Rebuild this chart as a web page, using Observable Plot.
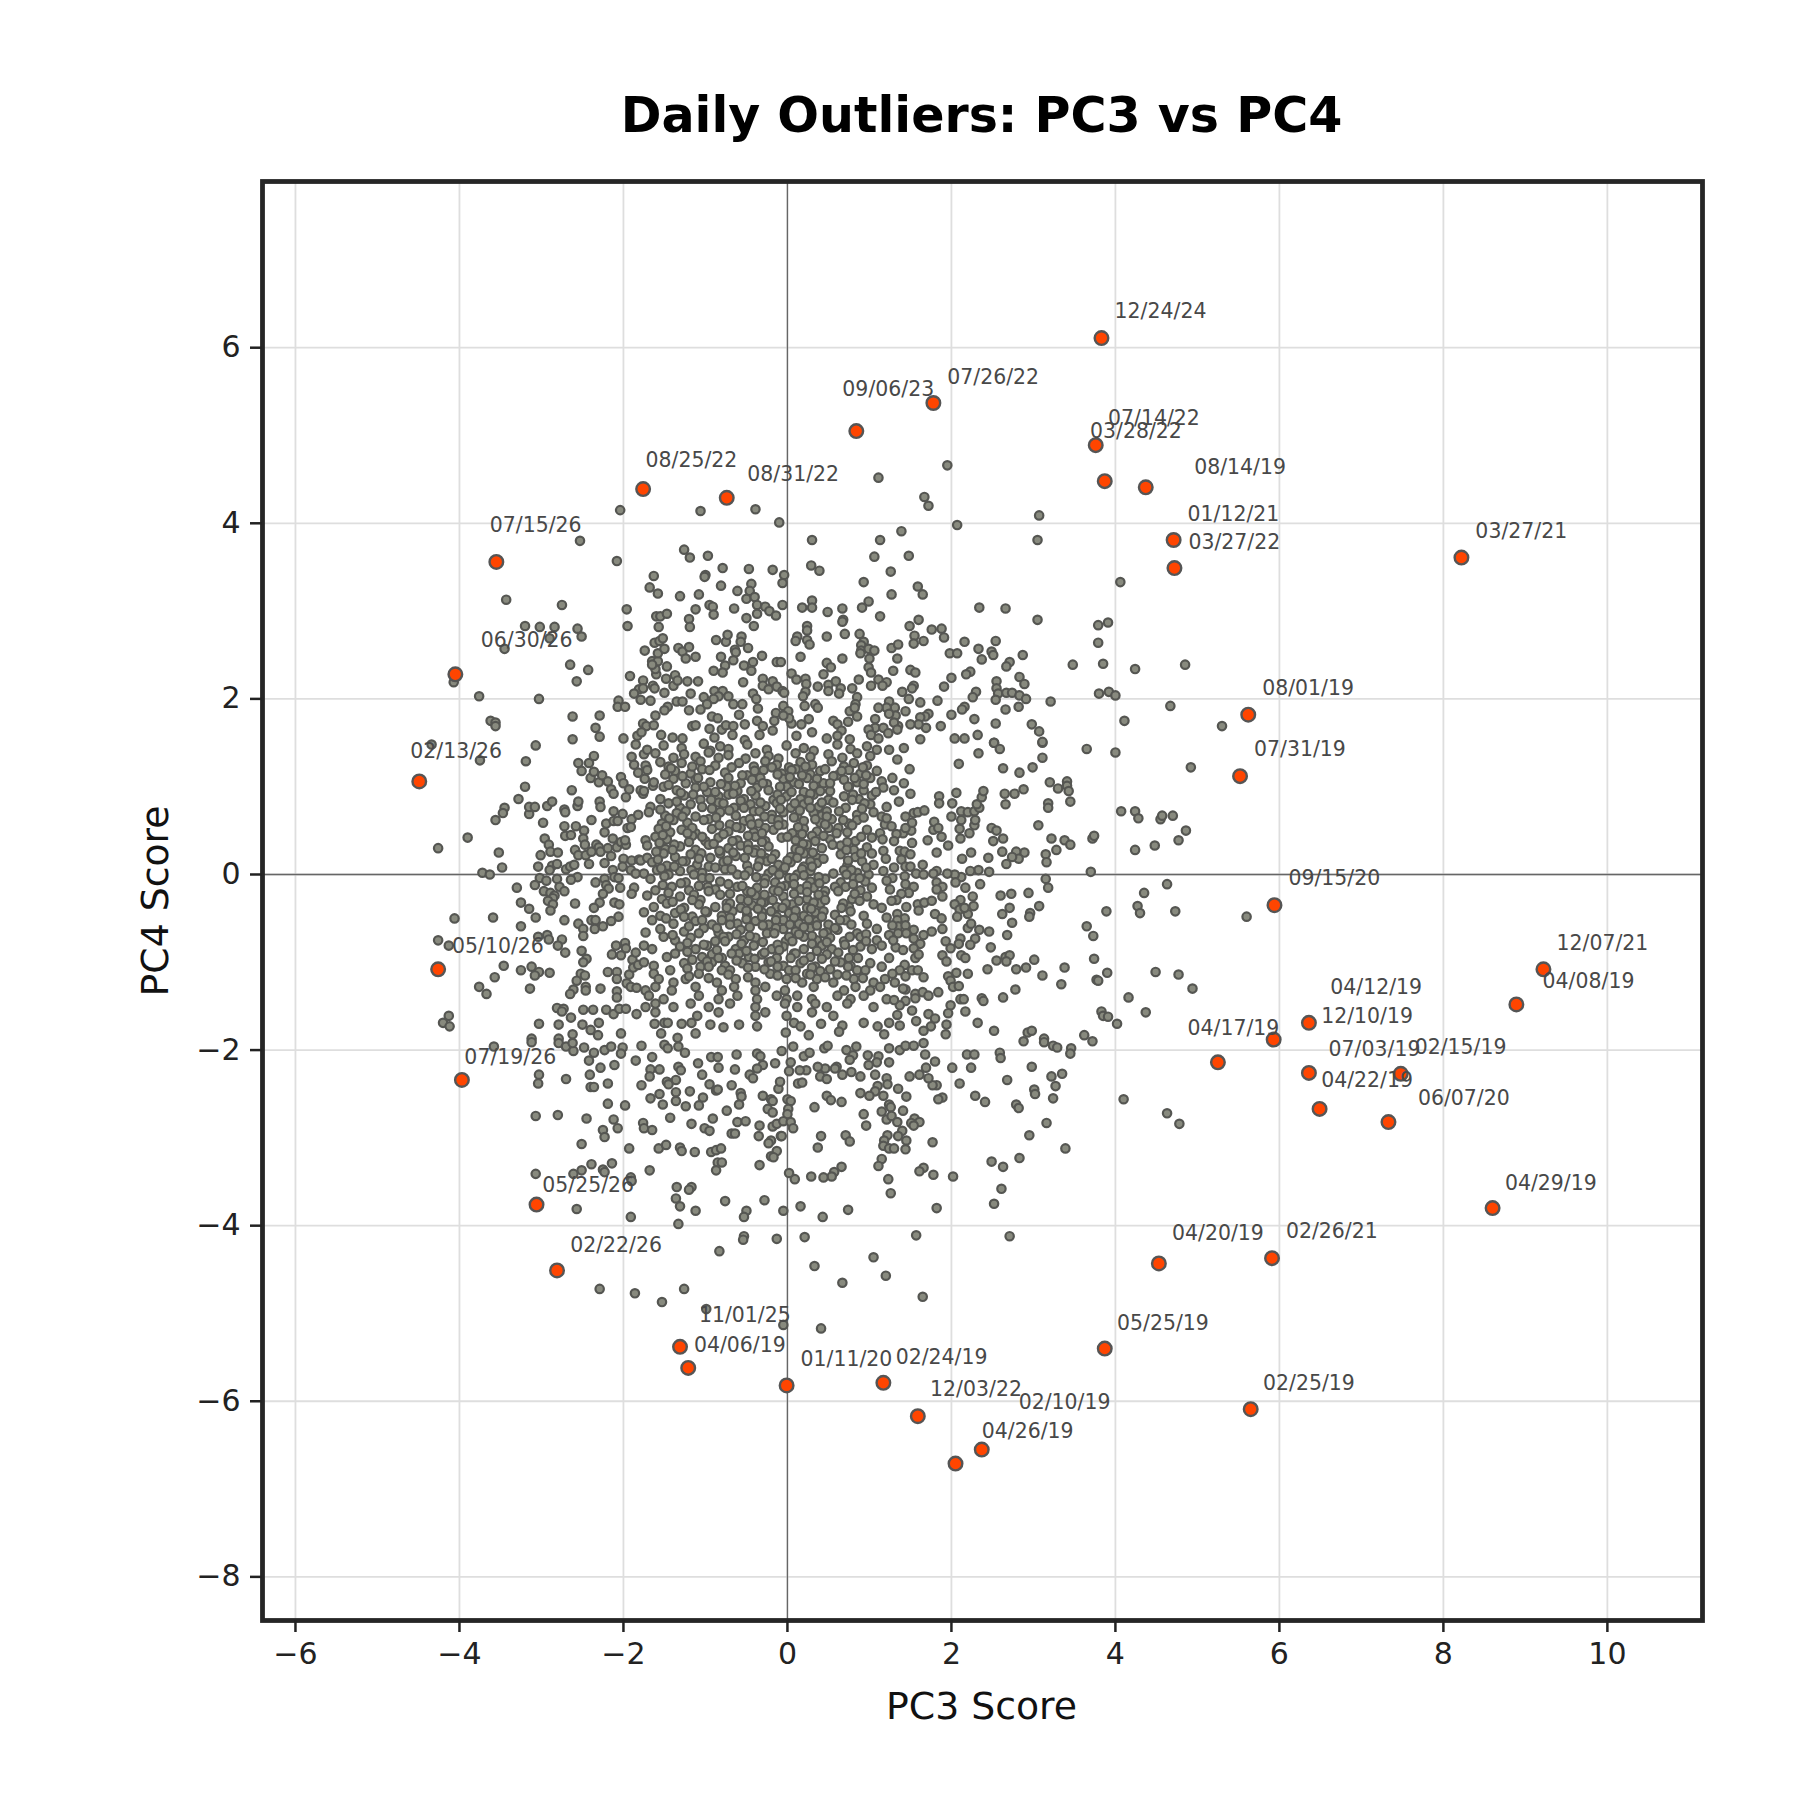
<!DOCTYPE html>
<html><head><meta charset="utf-8">
<script src="https://cdn.jsdelivr.net/npm/d3@7"></script>
<script src="https://cdn.jsdelivr.net/npm/@observablehq/plot@0.6"></script>
<style>html,body{margin:0;padding:0;background:#fff}svg{display:block}</style>
</head><body><div id="chart"></div>
<script>
const xTicks=[-6,-4,-2,0,2,4,6,8,10];
const yTicks=[-8,-6,-4,-2,0,2,4,6];
const outlierDates=["12/24/24","07/26/22","09/06/23","03/28/22","07/14/22","08/14/19","01/12/21","03/27/22","03/27/21","08/25/22","08/31/22","07/15/26","06/30/26","02/13/26","08/01/19","07/31/19","09/15/20","12/07/21","04/08/19","04/12/19","12/10/19","04/17/19","07/03/19","02/15/19","04/22/19","06/07/20","04/29/19","02/26/21","04/20/19","05/25/19","02/25/19","02/24/19","01/11/20","12/03/22","02/10/19","04/26/19","11/01/25","04/06/19","05/10/26","07/19/26","05/25/26","02/22/26"];
const outlierPC3=[3.83,1.78,.84,3.76,3.87,4.37,4.71,4.72,8.22,-1.76,-.74,-3.55,-4.05,-4.49,5.62,5.52,5.94,9.22,8.89,6.36,5.93,5.25,6.36,7.48,6.49,7.33,8.60,5.91,4.53,3.87,5.65,1.17,-.01,1.59,2.05,2.37,-1.31,-1.21,-4.26,-3.97,-3.06,-2.81];
const outlierPC4=[6.11,5.37,5.05,4.89,4.48,4.41,3.81,3.49,3.61,4.39,4.29,3.56,2.28,1.06,1.82,1.12,-.35,-1.08,-1.48,-1.69,-1.88,-2.14,-2.26,-2.27,-2.67,-2.82,-3.80,-4.37,-4.43,-5.40,-6.09,-5.79,-5.82,-6.17,-6.71,-6.55,-5.38,-5.62,-1.08,-2.34,-3.76,-4.51];
const labelPC3=[3.99,1.95,.67,3.69,3.91,4.96,4.88,4.89,8.39,-1.73,-.49,-3.63,-3.74,-4.60,5.79,5.69,6.11,9.38,9.21,6.62,6.51,4.88,6.60,7.65,6.51,7.69,8.75,6.08,4.69,4.02,5.80,1.32,.16,1.74,2.82,2.37,-1.08,-1.14,-4.09,-3.94,-2.99,-2.65];
const labelPC4=[6.41,5.66,5.52,5.05,5.19,4.64,4.10,3.78,3.91,4.72,4.56,3.97,2.67,1.40,2.12,1.42,-.05,-.78,-1.22,-1.29,-1.62,-1.75,-1.99,-1.97,-2.35,-2.55,-3.52,-4.07,-4.09,-5.11,-5.80,-5.50,-5.52,-5.87,-6.01,-6.34,-5.02,-5.36,-.82,-2.08,-3.54,-4.22];

const upperLeft=[[-2.04,4.15],[-1.06,4.14],[-.39,4.16],[-.10,4.01],[-2.53,3.80],[-2.08,3.57],[-1.26,3.70],[-1.19,3.61],[-.97,3.63],[-.79,3.49],[-.47,3.48],[-.18,3.47],[-1,3.41],[-1.01,3.39],[-1.63,3.40],[-1.68,3.27],[-1.58,3.20],[-1.31,3.17],[-1.08,3.19],[-.81,3.29],[-.44,3.31],[-.46,3.23],[-.61,3.23],[-.50,3.14],[-.40,3.16],[-.37,3.07],[-.27,3.05],[-.22,3.00],[-.14,2.95],[-.37,2.97],[-.65,3.03],[-.95,3.07],[-.91,3.05],[-.90,2.96],[-1.12,3.02],[-3.43,3.13],[-2.75,3.07],[-1.96,3.02],[-1.95,2.83],[-3.20,2.83],[-3.02,2.82],[-2.84,2.82],[-2.56,2.80],[-2.51,2.71],[-2.90,2.69],[-3.45,2.57],[-2.65,2.39],[-2.43,2.33],[-2.57,2.20],[-4.07,2.19],[-3.76,2.03],[-3.03,2.0],[-3.62,1.75],[-3.56,1.73],[-3.56,1.69],[-2.62,1.80],[-2.29,1.81],[-2.34,1.67],[-2.29,1.57],[-2.62,1.54],[-2.06,1.98],[-2.07,1.91],[-1.98,1.91],[-1.92,2.26],[-1.76,2.21],[-1.81,2.11],[-1.76,2.12],[-1.87,2.06],[-1.79,1.99],[-1.67,1.98],[-1.64,2.15],[-1.62,2.12],[-1.50,2.07],[-1.39,2.15],[-1.37,2.27],[-1.34,2.21],[-1.48,2.23],[-1.60,2.28],[-1.61,2.34],[-1.65,2.43],[-1.58,2.43],[-1.65,2.39],[-1.47,2.37],[-1.74,2.55],[-1.58,2.52],[-1.50,2.57],[-1.62,2.64],[-1.56,2.66],[-1.52,2.69],[-1.33,2.58],[-1.28,2.54],[-1.20,2.59],[-1.24,2.46],[-1.12,2.48],[-1.57,2.82],[-1.60,2.94],[-1.55,2.94],[-1.47,2.97],[-1.20,2.91],[-1.19,2.82],[-.87,2.67],[-.75,2.65],[-.73,2.73],[-.56,2.71],[-.57,2.65],[-.48,2.58],[-.64,2.56],[-.63,2.53],[-.31,2.49],[-.81,2.48],[-.66,2.44],[-.76,2.38],[-.42,2.42],[-.53,2.38],[-.44,2.32],[-.90,2.32],[-.79,2.30],[-.13,2.42],[-.50,2.92],[-.41,2.83],[-1.22,2.20],[-1.09,2.20],[-.54,2.19],[-.30,2.23],[-.18,2.20],[-.30,2.15],[-.23,2.11],[-.13,2.14],[-1.18,2.06],[-.89,2.09],[-.79,2.09],[-.42,2.06],[-1.02,2.02],[-.84,2.03],[-.72,2.03],[-.90,2.0],[-1.35,1.97],[-1.28,1.97],[-1.46,1.91],[-1.50,1.87],[-1.20,1.87],[-1.06,1.88],[-.98,1.94],[-.66,1.94],[-.55,1.94],[-.38,2.0],[-.36,1.89],[-1.61,1.81],[-1.76,1.72],[-1.72,1.69],[-1.63,1.70],[-1.83,1.58],[-1.78,1.62],[-2.0,1.55],[-1.54,1.59],[-1.40,1.56],[-1.28,1.55],[-1.16,1.69],[-1.12,1.70],[-.95,1.66],[-.92,1.80],[-.85,1.78],[-.59,1.82],[-.80,1.65],[-.75,1.70],[-.66,1.69],[-.52,1.71],[-.37,1.75],[-.30,1.69],[-.14,1.84],[-.16,1.75],[-.18,1.64],[-.34,1.59],[-.89,1.56],[-.67,1.59],[-.52,1.53]];

const upperRight=[[1.11,4.52],[1.95,4.66],[1.67,4.30],[1.72,4.20],[2.07,3.98],[3.07,4.09],[3.05,3.81],[.30,3.81],[1.13,3.81],[1.39,3.91],[1.06,3.62],[1.48,3.63],[.29,3.52],[.39,3.46],[1.26,3.45],[-.04,3.41],[-.06,3.32],[.93,3.33],[1.59,3.28],[1.27,3.19],[1.65,3.19],[.30,3.12],[-.06,3.07],[.18,3.04],[.30,3.04],[.49,2.99],[.67,3.03],[.99,3.11],[.91,3.04],[1.13,2.94],[.68,2.90],[.67,2.88],[1.60,2.90],[1.49,2.83],[1.76,2.79],[1.88,2.80],[1.91,2.70],[1.55,2.72],[1.54,2.63],[1.66,2.66],[2.34,3.04],[2.66,3.03],[3.05,2.90],[4.06,3.33],[3.79,2.84],[3.91,2.87],[3.79,2.64],[3.85,2.40],[3.48,2.39],[4.24,2.34],[3.80,2.06],[3.92,2.08],[4.0,2.04],[4.67,1.92],[4.11,1.75],[3.21,1.97],[.24,2.83],[.24,2.78],[.12,2.71],[.10,2.66],[.24,2.67],[.27,2.62],[.48,2.71],[.70,2.74],[.88,2.74],[.93,2.65],[.90,2.61],[.90,2.55],[.89,2.52],[.99,2.57],[1.06,2.55],[1.0,2.46],[1.27,2.58],[1.35,2.62],[1.34,2.46],[.16,2.48],[-.08,2.42],[.48,2.41],[.53,2.36],[.67,2.46],[.44,2.28],[.99,2.36],[1.02,2.30],[1.29,2.32],[1.50,2.33],[1.56,2.30],[.05,2.29],[.11,2.22],[.22,2.23],[.23,2.17],[.37,2.14],[.50,2.16],[.59,2.20],[.87,2.22],[1.11,2.22],[1.21,2.19],[1.16,2.15],[1.02,2.15],[.79,2.12],[.65,2.12],[.50,2.09],[.63,2.06],[.22,2.08],[.19,2.03],[-.06,2.09],[-.04,2.07],[.85,2.02],[1.40,2.08],[1.54,2.15],[1.52,2.12],[1.48,2.0],[1.62,1.96],[1.91,2.14],[2.0,2.24],[2.16,2.65],[2.33,2.57],[2.54,2.66],[1.98,2.52],[2.07,2.52],[2.49,2.54],[2.51,2.50],[2.37,2.45],[2.87,2.50],[2.71,2.42],[2.67,2.37],[2.23,2.31],[2.18,2.28],[2.83,2.25],[2.89,2.17],[2.55,2.20],[2.55,2.12],[2.57,2.06],[2.67,2.07],[2.74,2.07],[2.83,2.04],[2.91,2.0],[2.54,1.99],[2.30,2.08],[2.26,2.02],[1.83,1.98],[2.16,1.91],[2.13,1.88],[2.0,1.82],[2.82,1.91],[2.66,1.88],[2.28,1.77],[2.54,1.72],[2.98,1.71],[3.07,1.63],[3.11,1.50],[2.32,1.59],[1.87,1.69],[1.72,1.83],[1.68,1.80],[1.62,1.79],[1.69,1.67],[1.60,1.71],[1.50,1.71],[1.35,1.69],[1.44,1.86],[1.31,1.90],[1.32,1.81],[1.24,1.97],[1.21,1.90],[1.24,1.83],[1.11,1.90],[1.30,1.73],[1.07,1.77],[1.07,1.67],[1.17,1.67],[1.23,1.61],[1.34,1.65],[.99,1.65],[1.02,1.59],[.85,1.80],[.74,1.74],[.76,1.86],[.83,1.94],[.82,1.90],[.56,1.75],[.61,1.71],[.66,1.64],[.61,1.58],[.17,1.71],[.26,1.77],[.05,1.72],[-.05,1.92],[.01,1.86],[.02,1.78],[-.05,1.81],[.21,1.92],[.34,1.94],[.37,1.90],[.30,1.62],[.11,1.58],[.48,1.55],[.76,1.54],[1.11,1.55],[1.62,1.54],[2.04,1.55],[2.16,1.55],[2.52,1.50],[4.85,2.39],[5.30,1.69],[4.92,1.22],[4.86,.50]];

const midLeftSparse=[[-4.34,1.48],[-3.07,1.47],[-3.75,1.30],[-3.19,1.29],[-3.20,1.0],[-3.28,.86],[-3.45,.76],[-3.47,.70],[-3.56,.62],[-2.63,.96],[-2.55,1.27],[-2.42,1.27],[-2.36,1.35],[-2.51,1.18],[-2.40,1.10],[-2.36,1.17],[-2.30,1.05],[-2.26,1.13],[-2.19,1.06],[-2.15,.97],[-2.12,.92],[-2.03,1.11],[-2.0,1.04],[-1.93,.97],[-1.97,.88],[-1.85,1.48],[-1.90,1.34],[-1.87,1.25],[-1.82,1.16],[-1.75,1.37],[-1.72,1.22],[-1.64,1.01],[-1.74,1.09],[-1.79,.96],[-1.76,.92],[-3.90,.42],[-4.26,.30],[-3.52,.25],[-3.48,.08],[-3.72,.02],[-3.63,0],[-3.15,.69],[-3.15,.77],[-3.08,.77],[-2.98,.59],[-2.93,.78],[-2.87,.83],[-2.72,.74],[-2.71,.71],[-2.56,.78],[-2.55,.83],[-2.29,.83],[-2.28,.77],[-2.12,.72],[-2.01,.69],[-2.39,.62],[-2.72,.55],[-2.58,.55],[-2.48,.50],[-2.71,.44],[-2.64,.45],[-2.96,.41],[-2.91,.34],[-2.89,.26],[-2.80,.25],[-3.01,.22],[-2.49,.41],[-2.47,.34],[-2.59,.28],[-2.55,.22],[-2.46,.22],[-2.39,.26],[-2.33,.34],[-2.30,.31],[-2.28,.26],[-2.19,.30],[-2.15,.21],[-2.23,.13],[-2.13,.41],[-2.08,.31],[-2.03,.37],[-1.97,.34],[-1.98,.39],[-2.23,.48],[-2.21,.58],[-2.12,.61],[-2.07,.61],[-1.95,.53],[-1.90,.63],[-1.82,.68],[-1.91,.54],[-3.04,.09],[-2.87,.10],[-2.90,.05],[-2.81,.12],[-2.70,.06],[-2.65,.09],[-2.60,.11],[-2.42,.12],[-2.0,.18],[-1.90,.16],[-1.81,.17],[-1.79,.16],[-2.01,.09],[-2.13,.05],[-1.91,.05],[-1.85,.01],[-3.02,-.04],[-2.94,-.07],[-2.81,-.05],[-2.56,-.03],[-2.64,-.06],[-3.08,-.12],[-3.30,-.15],[-2.97,-.19],[-2.78,-.14],[-2.72,-.19],[-2.89,-.21],[-2.84,-.24],[-2.86,-.27],[-2.92,-.30],[-2.86,-.34],[-2.89,-.41],[-3.25,-.32],[-3.15,-.39],[-3.07,-.49],[-2.59,-.33],[-2.34,-.09],[-2.23,-.05],[-2.21,-.12],[-2.11,-.03],[-2.06,-.04],[-2.18,-.16],[-2.04,-.15],[-2.25,-.22],[-2.29,-.32],[-2.36,-.38],[-2.11,-.32],[-2.05,-.34],[-1.87,-.15],[-1.90,-.22],[-2.06,-.48],[-2.15,-.53],[-2.72,-.52],[-4.06,-.50],[-3.59,-.49],[-3.25,-.59],[-2.55,-.56],[-2.49,-.62],[-2.39,-.52],[-2.34,-.52],[-2.35,-.62],[-2.25,-.59],[-2.49,-.70],[-3.04,-.71],[-2.93,-.69],[-2.91,-.74],[-2.75,-.74],[-2.80,-.81],[-2.71,-.89],[-4.26,-.75],[-4.13,-.81],[-2.51,-.87],[-2.45,-.96],[-2.49,-1.0],[-2.14,-.91],[-2.09,-.81],[-1.98,-.78],[-1.97,-.84],[-2.03,-.92],[-3.46,-1.04],[-3.25,-1.09],[-3.12,-1.05],[-3.03,-1.11],[-3.08,-1.15],[-2.90,-1.12],[-3.57,-1.17],[-3.76,-1.28],[-3.67,-1.36],[-3.14,-1.30],[-2.52,-1.13],[-2.47,-1.15],[-2.57,-1.21],[-2.46,-1.28],[-2.61,-1.31],[-2.65,-1.36],[-2.46,-1.32],[-2.28,-1.30],[-2.19,-1.11],[-2.08,-1.11],[-2.08,-1.19],[-2.08,-1.33],[-2.08,-1.40],[-1.96,-1.24],[-1.93,-1.14],[-1.89,-.97],[-1.85,-.89],[-1.88,-1.06],[-1.82,-1.03],[-1.91,-1.28],[-1.84,-1.29],[-2.81,-1.52],[-2.73,-1.53],[-2.75,-1.56],[-2.64,-1.63],[-2.49,-1.54],[-2.37,-1.54],[-2.21,-1.54],[-2.12,-1.59],[-2.05,-1.53],[-1.97,-1.53],[-1.84,-1.59],[-4.13,-1.61],[-4.20,-1.69],[-4.12,-1.73],[-3.03,-1.70],[-2.79,-1.71],[-2.50,-1.71],[-2.40,-1.77],[-2.30,-1.69],[-2.31,-1.83],[-2.62,-1.82],[-3.12,-1.87],[-2.79,-1.87],[-2.03,-1.81],[-1.62,-1.70],[-1.50,-1.69],[-1.46,-1.69],[-1.29,-1.70],[-1.17,-1.69],[-1.54,-1.81],[-1.34,-1.86],[-1.12,-1.81],[-.94,-1.71],[-.78,-1.74],[-.59,-1.71],[-.37,-1.73]];

const coreDense=[
[-1.71,1.42],[-1.51,1.47],[-1.29,1.44],[-1.02,1.49],[-.94,1.41],[-.82,1.46],[-.72,1.43],[-.49,1.48],[-.25,1.42],[-.01,1.47],[.20,1.44],[.32,1.41],[.61,1.48],[.77,1.43],[.97,1.46],[1.09,1.42],
[-1.61,1.38],[-1.39,1.33],[-1.26,1.37],[-1.12,1.34],[-.96,1.39],[-.84,1.33],[-.72,1.36],[-.51,1.32],[-.39,1.38],[-.23,1.35],[-.11,1.32],[.10,1.38],[.28,1.34],[.50,1.37],[.67,1.33],[.85,1.38],[1.01,1.35],
[-1.73,1.24],[-1.55,1.28],[-1.45,1.23],[-1.29,1.27],[-1.06,1.29],[-.88,1.24],[-.59,1.27],[-.41,1.23],[-.27,1.29],[-.13,1.25],[.02,1.22],[.16,1.28],[.30,1.25],[.54,1.29],[.69,1.23],[.81,1.27],[.97,1.24],
[-1.71,1.19],[-1.49,1.14],[-1.37,1.18],[-1.18,1.15],[-1.04,1.20],[-.76,1.16],[-.49,1.13],[-.29,1.19],[-.07,1.15],[.10,1.20],[.28,1.14],[.40,1.18],[.61,1.13],[.75,1.19],[.89,1.15],[1.09,1.18],
[-1.63,1.05],[-1.39,1.09],[-1.24,1.04],[-1.12,1.08],[-.94,1.05],[-.72,1.10],[-.57,1.04],[-.43,1.08],[-.25,1.03],[-.05,1.09],[.08,1.05],[.24,1.10],[.44,1.04],[.69,1.08],[.85,1.05],[1.01,1.10],[1.15,1.06],
[-1.75,.95],[-1.51,1.0],[-1.35,.96],[-1.12,.99],[-.98,.94],[-.74,1.0],[-.61,.95],[-.37,.99],[-.23,.96],[-.01,1.0],[.20,.94],[.34,.98],[.52,.95],[.75,1.0],[.93,.96],[1.17,.99],
[-1.55,.86],[-1.26,.90],[-1.06,.85],[-.84,.89],[-.72,.91],[-.53,.86],[-.39,.90],[-.17,.85],[-.01,.89],[.16,.86],[.32,.91],[.50,.85],[.69,.89],[.87,.86],[1.03,.90],
[-1.67,.77],[-1.45,.81],[-1.31,.76],[-1.18,.80],[-1.04,.77],[-.84,.82],[-.65,.76],[-.45,.80],[-.27,.78],[-.13,.81],[.04,.76],[.20,.80],[.38,.77],[.56,.82],[.71,.76],[1.01,.80],[1.21,.77],
[-1.69,.71],[-1.49,.67],[-1.35,.70],[-1.12,.66],[-.82,.71],[-.63,.67],[-.41,.72],[-.19,.68],[-.05,.71],[.12,.66],[.32,.70],[.42,.67],[.63,.72],[.85,.68],[1.05,.71],[1.15,.66],
[-1.53,.58],[-1.39,.62],[-1.22,.59],[-.96,.63],[-.70,.57],[-.53,.61],[-.35,.58],[-.19,.63],[-.05,.57],[.20,.61],[.40,.59],[.54,.63],[.75,.58],[.85,.62],[1.19,.57],
[-1.57,.52],[-1.43,.48],[-1.29,.51],[-1.12,.47],[-.92,.52],[-.72,.49],[-.57,.53],[-.41,.48],[-.17,.51],[.06,.47],[.20,.52],[.36,.49],[.50,.53],[.73,.48],[.97,.51],[1.13,.47],
[-1.73,.39],[-1.61,.43],[-1.47,.40],[-1.16,.44],[-1.0,.38],[-.84,.42],[-.61,.39],[-.39,.43],[-.27,.38],[-.07,.42],[.10,.39],[.30,.44],[.52,.40],[.83,.38],[1.03,.42],
[-1.71,.33],[-1.49,.29],[-1.31,.32],[-1.12,.28],[-.96,.34],[-.72,.30],[-.57,.33],[-.39,.28],[-.23,.32],[.10,.29],[.24,.34],[.42,.30],[.65,.33],[.81,.28],[.97,.31],
[-1.71,.19],[-1.51,.24],[-1.37,.20],[-1.18,.23],[-.94,.19],[-.82,.24],[-.63,.21],[-.41,.25],[-.27,.19],[-.15,.23],[.04,.20],[.20,.24],[.36,.19],[.65,.23],[.83,.20],[1.03,.24],
[-1.65,.14],[-1.47,.10],[-1.24,.15],[-1.10,.11],[-.96,.09],[-.78,.14],[-.49,.10],[-.25,.15],[-.11,.11],[.04,.14],[.20,.09],[.36,.13],[.73,.10],[.91,.15],[1.05,.11],
[-1.75,.01],[-1.59,.05],[-1.45,.0],[-1.31,.04],[-1.04,.02],[-.76,.06],[-.61,.0],[-.47,.04],[-.23,.01],[-.05,.05],[.12,.0],[.28,.04],[.56,.01],[.69,.05],[.85,.02],[.99,.0],[1.17,.04],
[-1.67,-.05],[-1.24,-.09],[-1.04,-.04],[-.82,-.08],[-.27,-.05],[-.15,-.09],[.02,-.04],[.28,-.08],[.46,-.05],[.65,-.09],[.81,-.04],[.95,-.08],
[-1.61,-.18],[-1.41,-.14],[-1.20,-.18],[-1.08,-.13],[-.88,-.17],[-.61,-.14],[-.49,-.19],[-.37,-.15],[-.17,-.18],[-.03,-.13],[.16,-.17],[.32,-.15],[.46,-.19],[.71,-.14],[.89,-.18],[1.03,-.15],
[-1.71,-.24],[-1.53,-.28],[-1.31,-.25],[-1.06,-.29],[-.82,-.23],[-.57,-.28],[-.39,-.24],[-.25,-.29],[-.05,-.25],[.24,-.28],[.44,-.24],[.79,-.28],[.97,-.25],
[-1.63,-.37],[-1.47,-.33],[-1.26,-.38],[-1.08,-.34],[-.88,-.37],[-.74,-.33],[-.57,-.38],[-.43,-.35],[-.29,-.32],[-.13,-.37],[.06,-.34],[.24,-.38],[.40,-.33],[.75,-.37],[1.05,-.34],[1.15,-.38],
[-1.75,-.43],[-1.55,-.47],[-1.37,-.44],[-1.16,-.48],[-.98,-.43],[-.80,-.47],[-.67,-.42],[-.49,-.46],[-.31,-.43],[-.13,-.48],[.02,-.44],[.20,-.47],[.34,-.43],[.58,-.46],[.77,-.42],[.93,-.47],
[-1.65,-.52],[-1.39,-.56],[-1.12,-.53],[-.92,-.57],[-.80,-.52],[-.61,-.56],[-.39,-.53],[-.23,-.57],[-.05,-.52],[.14,-.56],[.36,-.53],[.50,-.57],[.71,-.52],[.97,-.56],
[-1.73,-.66],[-1.55,-.62],[-1.26,-.65],[-1.02,-.61],[-.84,-.66],[-.57,-.63],[-.25,-.67],[-.05,-.62],[.10,-.65],[.28,-.61],[.48,-.66],[.61,-.63],[.85,-.67],[1.09,-.62],
[-1.51,-.71],[-1.37,-.75],[-1.18,-.72],[-.88,-.76],[-.72,-.71],[-.53,-.75],[-.39,-.72],[-.02,-.76],[.20,-.71],[.36,-.75],[.52,-.72],[.69,-.76],[.89,-.71],[1.09,-.75],
[-1.75,-.81],[-1.65,-.85],[-1.31,-.82],[-1.12,-.85],[-.98,-.81],[-.63,-.85],[-.41,-.81],[-.19,-.85],[-.05,-.82],[.20,-.85],[.42,-.81],[.54,-.85],[.89,-.82],[1.03,-.85],[1.15,-.81],
[-1.47,-.94],[-1.37,-.90],[-1.04,-.94],[-.92,-.91],[-.80,-.95],[-.59,-.90],[-.47,-.94],[-.31,-.91],[-.13,-.95],[.08,-.90],[.28,-.94],[.48,-.91],[.75,-.95],
[-1.75,-1.0],[-1.63,-1.04],[-1.26,-1.01],[-1.06,-1.05],[-.92,-1.0],[-.76,-1.04],[-.55,-1.01],[-.39,-1.05],[-.23,-1.0],[-.05,-1.04],[.16,-1.01],[.34,-1.05],[.65,-1.0],[.77,-1.04],[1.01,-1.01],[1.15,-1.05],
[-1.63,-1.13],[-1.43,-1.09],[-1.08,-1.13],[-.70,-1.09],[-.21,-1.13],[.02,-1.09],[.24,-1.13],[.40,-1.10],[.61,-1.14],[.85,-1.09],
[-1.57,-1.19],[-1.39,-1.23],[-1.24,-1.19],[-.86,-1.23],[-.63,-1.19],[-.39,-1.23],[-.01,-1.19],[.18,-1.23],[.36,-1.19],[.56,-1.23],[.81,-1.19],[1.05,-1.23],[1.19,-1.19],
[-1.73,-1.32],[-1.61,-1.28],[-1.41,-1.32],[-1.12,-1.28],[-.80,-1.32],[-.65,-1.28],[-.39,-1.32],[-.27,-1.28],[-.03,-1.32],[.32,-1.28],[.69,-1.32],[.83,-1.28],[1.01,-1.32],[1.13,-1.28],
[-1.69,-1.38],[-1.51,-1.42],[-1.08,-1.38],[-.84,-1.42],[-.61,-1.38],[-.37,-1.42],[-.13,-1.38],[-.01,-1.42],[.12,-1.38],[.30,-1.42],[.61,-1.38],[.77,-1.42],[.93,-1.38],[1.21,-1.42],
[-1.73,-1.51],[-1.61,-1.47],[-1.39,-1.51],[-1.18,-1.47],[-.96,-1.51],[-.70,-1.47],[-.39,-1.51],[-.03,-1.47],[.12,-1.51],[.34,-1.47],[.48,-1.51],[.73,-1.47],[1.05,-1.51],
[-1.61,-1.57],[-1.10,-1.61],[-.84,-1.57],[-.39,-1.61],[-.27,-1.57],[-.01,-1.61],[.30,-1.57],[.56,-1.61],
[.08,-1.69],[.16,-1.73],[.41,-1.70],[.67,-1.72],[.93,-1.69],[1.10,-1.73],[1.24,-1.69],[1.37,-1.72],[-.02,-1.80],[.26,-1.83],[.63,-1.79],[1.18,-1.82]];

const coreInner=[
[-1.42,1.21],[-1.16,1.23],[-.95,1.19],[-.68,1.22],[-.40,1.18],[-.19,1.22],[.05,1.19],[.22,1.23],[.46,1.20],[.66,1.18],[.92,1.22],
[-1.28,1.12],[-1.09,1.10],[-.55,1.13],[-.33,1.10],[-.12,1.14],[.03,1.11],[.18,1.13],[.36,1.09],[.56,1.12],[.82,1.10],[.96,1.13],
[-1.45,1.02],[-1.02,1.0],[-.81,1.03],[-.64,1.01],[-.30,1.04],[-.09,1.0],[.14,1.03],[.32,1.01],[.52,1.04],[.74,1.0],[.93,1.03],
[-1.30,.93],[-1.15,.91],[-.88,.94],[-.66,.92],[-.44,.95],[-.12,.91],[.05,.94],[.28,.92],[.40,.95],[.80,.91],[1.08,.94],
[-1.35,.83],[-.93,.85],[-.78,.81],[-.57,.84],[-.33,.82],[-.08,.85],[.09,.81],[.26,.84],[.42,.82],[.79,.85],[.94,.81],
[-1.55,.74],[-1.24,.72],[-.92,.75],[-.71,.73],[-.53,.76],[-.34,.72],[-.09,.75],[.15,.73],[.28,.76],[.48,.72],[.91,.75],
[-1.44,.64],[-1.28,.66],[-1.02,.62],[-.87,.65],[-.46,.63],[-.28,.66],[-.11,.62],[.08,.65],[.34,.63],[.48,.66],[.68,.62],[.93,.65],
[-1.48,.55],[-1.16,.53],[-.83,.56],[-.62,.54],[-.44,.57],[-.27,.53],[-.11,.56],[.13,.54],[.46,.57],[.62,.53],[.79,.56],
[-1.52,.45],[-1.22,.47],[-1.04,.43],[-.78,.46],[-.48,.44],[-.31,.47],[.0,.43],[.18,.46],[.44,.44],[.60,.47],[.90,.43],
[-1.56,.36],[-1.38,.34],[-1.2,.37],[-.90,.35],[-.67,.38],[-.48,.34],[-.31,.37],[.19,.35],[.34,.38],[.55,.34],[.73,.37],
[-1.6,.26],[-1.4,.28],[-1.05,.24],[-.83,.27],[-.66,.25],[-.48,.28],[-.32,.24],[.15,.27],[.31,.25],[.72,.28],[.9,.24],
[-1.58,.17],[-1.28,.15],[-1.08,.18],[-.73,.16],[-.52,.19],[-.34,.15],[-.19,.18],[.0,.16],[.12,.19],[.28,.15],[.44,.18],[.74,.16],
[-1.54,.07],[-1.38,.09],[-1.17,.05],[-.88,.08],[-.68,.06],[-.36,.09],[-.18,.05],[-.03,.08],[.18,.06],[.30,.09],[.78,.05],[.96,.08],
[-1.5,-.02],[-1.14,0],[-.95,-.04],[-.52,-.01],[-.38,-.03],[-.10,0],[.08,-.04],[.20,-.01],[.38,-.03],[.72,0],[.88,-.04],
[-1.52,-.12],[-1.30,-.10],[-.97,-.14],[-.72,-.11],[-.55,-.13],[-.28,-.10],[-.08,-.14],[.08,-.11],[.24,-.13],[.39,-.10],[.58,-.14],[.80,-.11],
[-1.45,-.21],[-1.14,-.23],[-.96,-.19],[-.70,-.22],[-.44,-.20],[-.28,-.23],[-.11,-.19],[.08,-.22],[.24,-.20],[.38,-.23],[.62,-.19],[.82,-.22],
[-1.40,-.31],[-1.16,-.29],[-.70,-.33],[-.48,-.30],[-.32,-.32],[-.18,-.29],[-.02,-.33],[.14,-.30],[.32,-.32],[.46,-.29],[.68,-.33],[.88,-.30],
[-1.3,-.40],[-1.0,-.42],[-.74,-.38],[-.50,-.41],[-.36,-.39],[-.20,-.42],[-.06,-.38],[.10,-.41],[.29,-.39],[.44,-.42],[.66,-.38],
[-1.48,-.50],[-1.26,-.48],[-1.04,-.52],[-.70,-.49],[-.50,-.51],[-.31,-.48],[-.14,-.52],[.08,-.49],[.26,-.51],[.42,-.48],[.64,-.52],
[-1.2,-.59],[-.86,-.61],[-.70,-.57],[-.46,-.60],[-.30,-.58],[-.14,-.61],[.03,-.57],[.20,-.60],[.36,-.58],[.58,-.61],[.78,-.57],
[-1.4,-.69],[-1.08,-.67],[-.78,-.71],[-.62,-.68],[-.46,-.70],[-.16,-.67],[.02,-.71],[.14,-.68],[.30,-.70],[.44,-.67],[.76,-.71],[.96,-.68],
[-1.22,-.78],[-1.02,-.80],[-.76,-.76],[-.56,-.79],[-.30,-.77],[-.12,-.80],[.06,-.76],[.30,-.79],[.48,-.77],[.70,-.80],[.96,-.76],
[-1.22,-.88],[-.86,-.86],[-.68,-.90],[-.50,-.87],[-.28,-.89],[-.10,-.86],[.10,-.90],[.36,-.87],[.62,-.89],[.80,-.86],
[-1.16,-.97],[-.98,-.99],[-.84,-.95],[-.62,-.98],[-.40,-.96],[-.20,-.99],[.04,-.95],[.20,-.98],[.42,-.96],[.58,-.99],[.86,-.95],
[-1.22,-1.07],[-.96,-1.05],[-.80,-1.09],[-.48,-1.06],[-.28,-1.08],[-.12,-1.05],[.10,-1.09],[.30,-1.06],[.52,-1.08],[.74,-1.05],[.95,-1.09],
[-1.20,-1.16],[-.96,-1.18],[-.72,-1.14],[-.48,-1.17],[-.12,-1.15],[.10,-1.18],[.28,-1.14],[.46,-1.17],[.72,-1.15],[.92,-1.18]];

const midRightSparse=[[3.65,1.43],[4.0,1.39],[3.11,1.51],[3.11,1.33],[2.99,1.22],[2.83,1.16],[2.63,1.21],[2.52,1.50],[2.59,1.43],[2.33,1.38],[2.09,1.26],[3.20,1.05],[3.30,.98],[3.41,1.06],[3.41,1.01],[3.43,.95],[3.45,.83],[2.88,.97],[2.77,.92],[2.65,.92],[2.66,.80],[3.18,.81],[3.18,.76],[4.07,.72],[4.24,.72],[4.28,.64],[4.55,.63],[4.57,.67],[4.70,.67],[4.77,.39],[3.06,.56],[3.72,.41],[3.74,.44],[3.22,.41],[3.38,.39],[3.45,.34],[3.28,.28],[4.24,.28],[4.48,.33],[3.15,.23],[3.16,.14],[2.89,.25],[2.79,.26],[2.82,.18],[2.74,.20],[2.67,.12],[2.62,.26],[2.45,.19],[2.24,.25],[2.13,.18],[1.82,.25],[1.96,.33],[2.49,.53],[2.55,.50],[2.51,.38],[2.63,.41],[3.70,.03],[3.15,-.05],[3.18,-.15],[4.63,-.11],[4.35,-.21],[4.27,-.36],[4.30,-.44],[4.73,-.42],[3.89,-.42],[3.07,-.36],[2.96,-.44],[2.95,-.48],[2.94,-.21],[2.73,-.22],[2.60,-.24],[2.71,-.38],[2.62,-.45],[2.74,-.55],[3.65,-.59],[3.73,-.70],[3.74,-.96],[3.38,-1.06],[3.90,-1.12],[4.49,-1.11],[4.77,-1.14],[3.77,-1.20],[3.79,-1.21],[3.34,-1.25],[3.11,-1.15],[3.01,-.97],[2.91,-1.06],[2.79,-1.08],[2.78,-1.31],[2.63,-1.40],[4.16,-1.40],[4.37,-1.57],[3.83,-1.56],[3.85,-1.61],[3.91,-1.62],[4.02,-1.70],[2.52,-1.78],[2.93,-1.80],[2.98,-1.78],[3.13,-1.87],[3.62,-1.83],[2.32,-1.69],[2.37,-1.41],[2.39,-1.44],[2.17,-1.56],[2.11,-1.42],[2.15,-1.42],[2.68,-.69],[2.46,-.65],[2.48,-.83],[2.55,-.98],[2.66,-.94],[2.71,-.92],[2.67,-.99],[2.44,-1.08],[2.20,-1.13],[2.06,-1.12],[1.96,-1.16],[1.99,-1.21],[2.02,-1.28],[2.09,-1.27],[2.34,-.63],[2.20,-.61],[2.24,-.56],[2.29,-.73],[2.23,-.80],[2.11,-.73],[2.09,-.79],[1.93,-.76],[1.99,-.84],[1.89,-.62],[1.89,-.92],[1.94,-.99],[2.12,-.92],[2.17,-.95],[2.35,-.11],[2.17,-.15],[2.26,-.25],[2.27,-.36],[2.11,-.29],[2.04,-.34],[2.10,-.40],[2.20,-.45],[2.07,-.48],[2.16,-.38],[2.46,.03],[2.33,.05],[2.23,.04],[2.12,-.03],[2.04,0],[1.95,.01],[2.05,-.09],[1.82,-.09],[1.89,-.14],[1.82,-.17],[1.89,-.25],[2.11,.41],[2.22,.47],[2.10,.52],[2.12,.62],[2.0,.66],[2.12,.72],[2.20,.71],[2.28,.72],[2.34,.76],[2.31,.80],[2.28,.56],[2.29,.62],[2.37,.88],[2.39,.95],[2.06,.93],[2.01,.81],[1.85,.89],[1.85,.81],[1.88,.43],[1.71,.39],[1.52,.36],[1.78,.51],[1.79,.60],[1.84,.53],[1.51,.50],[1.41,.47],[1.33,.46],[1.44,.53],[1.52,.59],[1.54,.70],[1.44,.66],[1.59,.71],[1.67,.73],[1.17,.27],[1.37,.27],[1.43,.26],[1.50,.23],[1.39,.17],[1.44,.09],[1.50,.09],[1.65,.11],[1.57,.01],[1.66,0],[1.82,.04],[1.78,.01],[1.43,-.02],[1.28,-.04],[1.21,-.07],[1.44,-.11],[1.54,-.14],[1.48,-.21],[1.39,-.22],[1.33,-.29],[1.45,-.37],[1.59,-.34],[1.67,-.32],[1.76,-.30],[1.60,-.41],[1.80,-.45],[1.88,-.50],[1.34,-.45],[1.21,-.49],[1.43,-.50],[1.34,-.52],[1.35,-.59],[1.44,-.58],[1.54,-.63],[1.76,-.65],[1.66,-.69],[1.24,-.69],[1.35,-.67],[1.45,-.67],[1.54,-.73],[1.62,-.79],[1.32,-.83],[1.41,-.86],[1.29,-.75],[1.54,-.84],[1.56,-.95],[1.60,-.91],[1.43,-1.03],[1.37,-1.09],[1.44,-1.16],[1.52,-1.09],[1.59,-1.09],[1.66,-1.17],[1.44,-1.31],[1.56,-1.36],[1.65,-1.34],[1.72,-1.38],[1.84,-1.34],[1.56,-1.41],[1.44,-1.44],[1.37,-1.49],[1.52,-1.55],[1.72,-1.59],[1.80,-1.64],[1.57,-1.67],[1.75,-1.73],[1.66,-1.78],[1.94,-1.71],[1.93,-1.82],[1.99,-1.49],[1.96,-1.58],[5.60,-.48],[4.94,-1.30],[1.24,1.42],[1.34,1.31],[1.42,1.44],[1.49,1.20],[1.28,1.10],[1.42,1.04],[1.50,.92],[1.30,.96],[1.36,.83],[1.21,.64],[1.27,.55],[1.30,.38],[1.16,.40],[1.20,.18],[1.30,.08],[1.25,-.17],[1.27,-.30],[1.24,-.95],[1.28,-.58],[1.28,-1.13],[1.31,-1.23],[1.30,-1.43],[1.34,-1.60],[1.41,-1.30]];

const lowerLeft=[[-3.58,-1.96],[-3.12,-1.91],[-2.79,-1.92],[-2.70,-1.96],[-2.61,-2.01],[-2.62,-1.92],[-2.48,-1.97],[-2.36,-2.03],[-2.23,-2.0],[-2.15,-1.96],[-2.01,-1.97],[-2.03,-2.04],[-2.42,-2.12],[-2.28,-2.20],[-2.11,-2.17],[-1.85,-2.12],[-1.78,-1.95],[-1.65,-2.08],[-1.50,-1.94],[-1.46,-1.98],[-1.33,-1.96],[-1.25,-2.03],[-1.09,-2.15],[-.93,-2.08],[-.85,-2.08],[-.62,-2.05],[-.37,-2.04],[-.33,-2.07],[-.15,-2.15],[-.30,-2.17],[-.37,-2.21],[-.84,-2.20],[-.64,-2.22],[-1.33,-2.19],[-1.30,-2.23],[-1.67,-2.22],[-1.56,-2.22],[-1.68,-2.30],[-1.04,-2.28],[-.46,-2.28],[-.42,-2.32],[-3.03,-2.28],[-3.04,-2.38],[-2.70,-2.33],[-2.41,-2.28],[-2.19,-2.38],[-2.40,-2.42],[-2.36,-2.42],[-1.78,-2.40],[-1.47,-2.36],[-1.45,-2.39],[-1.36,-2.34],[-.95,-2.39],[-.87,-2.46],[-.85,-2.45],[-.68,-2.40],[-.57,-2.49],[-.56,-2.53],[-.30,-2.52],[-.20,-2.56],[-.18,-2.58],[-.11,-2.44],[-1.36,-2.48],[-1.56,-2.50],[-1.67,-2.55],[-1.19,-2.47],[-1.03,-2.54],[-1.36,-2.58],[-1.52,-2.62],[-1.24,-2.64],[-1.08,-2.63],[-.59,-2.62],[-.74,-2.69],[-.24,-2.67],[-.18,-2.71],[-2.19,-2.61],[-1.98,-2.63],[-3.07,-2.75],[-2.80,-2.74],[-2.45,-2.78],[-2.12,-2.79],[-2.25,-2.91],[-2.07,-2.89],[-2.23,-2.99],[-1.76,-2.83],[-1.75,-2.89],[-1.65,-2.91],[-1.43,-2.77],[-1.17,-2.84],[-.91,-2.78],[-1.01,-2.89],[-.95,-2.92],[-.61,-2.82],[-.51,-2.81],[-.34,-2.86],[-.18,-2.87],[-.13,-2.84],[-.68,-2.95],[-.64,-2.95],[-.35,-2.98],[-.08,-2.98],[-.20,-3.03],[-.23,-3.06],[-2.51,-3.07],[-1.93,-3.12],[-1.57,-3.12],[-1.48,-3.08],[-1.31,-3.11],[-1.29,-3.15],[-1.13,-3.16],[-.93,-3.16],[-.87,-3.14],[-.81,-3.12],[-.13,-3.15],[-.20,-3.21],[-.17,-3.22],[-3.07,-3.41],[-2.61,-3.41],[-2.51,-3.37],[-2.39,-3.30],[-2.25,-3.36],[-2.23,-3.39],[-2.14,-3.29],[-1.68,-3.37],[-1.91,-3.45],[-1.90,-3.49],[-.85,-3.28],[-.80,-3.28],[-.87,-3.37],[-.34,-3.31],[-1.35,-3.56],[-1.17,-3.56],[-1.20,-3.59],[-1.36,-3.69],[-1.31,-3.78],[-1.12,-3.83],[-.76,-3.72],[-.28,-3.71],[-.50,-3.83],[-.53,-3.90],[-2.57,-3.81],[-1.91,-3.90],[-1.33,-3.98],[-.53,-4.12],[-.54,-4.16],[-.13,-4.15],[-.83,-4.29],[-2.29,-4.72],[-1.86,-4.77],[-1.53,-4.87],[-1.26,-4.72],[-.99,-4.95]];

const lowerRight=[[-.07,-2.01],[.07,-1.96],[.20,-2.07],[.27,-2.03],[.45,-1.98],[.49,-1.95],[.72,-2.0],[.84,-1.96],[.80,-2.06],[.76,-2.11],[.98,-2.06],[1.11,-2.07],[1.24,-1.98],[1.37,-2.0],[1.44,-1.95],[1.54,-1.95],[1.66,-1.92],[1.68,-2.05],[1.80,-2.13],[1.69,-2.20],[2.01,-2.20],[2.19,-2.05],[2.28,-2.05],[2.24,-2.20],[2.59,-2.03],[2.60,-2.09],[2.98,-2.19],[2.88,-1.90],[3.13,-1.91],[3.24,-1.95],[3.29,-1.97],[3.46,-1.98],[3.45,-2.04],[3.72,-1.90],[3.35,-2.27],[3.22,-2.30],[3.27,-2.41],[3.01,-2.45],[3.02,-2.50],[3.24,-2.55],[2.68,-2.34],[2.79,-2.62],[2.82,-2.66],[4.10,-2.56],[4.63,-2.72],[4.78,-2.84],[3.16,-2.83],[2.95,-2.97],[3.39,-3.12],[2.83,-3.23],[2.49,-3.27],[2.63,-3.33],[2.61,-3.58],[2.52,-3.75],[2.71,-4.12],[2.02,-3.44],[1.78,-3.42],[1.66,-3.34],[1.61,-3.38],[1.77,-3.05],[2.10,-2.38],[2.29,-2.52],[2.41,-2.59],[1.89,-2.54],[1.84,-2.56],[1.82,-2.40],[1.77,-2.40],[1.72,-2.32],[1.61,-2.28],[1.49,-2.30],[1.35,-2.44],[1.45,-2.53],[1.24,-2.14],[1.09,-2.14],[.99,-2.17],[1.07,-2.28],[1.21,-2.32],[1.22,-2.39],[1.10,-2.41],[1.07,-2.47],[1.0,-2.52],[.89,-2.49],[1.17,-2.52],[.89,-2.30],[.78,-2.25],[.67,-2.28],[.60,-2.19],[.58,-2.21],[.46,-2.21],[.37,-2.19],[.23,-2.23],[.15,-2.23],[.02,-2.24],[.04,-2.14],[.40,-2.30],[.48,-2.33],[.13,-2.38],[.18,-2.37],[-.09,-2.36],[.48,-2.52],[.53,-2.57],[.66,-2.59],[0,-2.56],[.04,-2.58],[.33,-2.65],[.01,-2.67],[0,-2.73],[-.05,-2.81],[.04,-2.82],[.07,-2.89],[.93,-2.73],[.96,-2.86],[1.15,-2.70],[1.24,-2.62],[1.26,-2.65],[1.21,-2.79],[1.27,-2.75],[1.34,-2.82],[1.41,-2.69],[1.55,-2.78],[1.61,-2.82],[1.51,-2.83],[1.54,-2.86],[1.40,-2.92],[1.35,-2.98],[1.45,-3.03],[1.22,-2.97],[1.18,-3.03],[1.17,-3.09],[1.24,-3.12],[1.30,-3.12],[1.44,-3.13],[.71,-2.97],[.76,-3.04],[.41,-2.98],[.37,-3.11],[-.07,-2.98],[1.15,-3.24],[1.11,-3.32],[1.23,-3.47],[1.26,-3.63],[1.82,-3.80],[.66,-3.33],[.57,-3.39],[.54,-3.44],[.44,-3.45],[.29,-3.44],[.09,-3.47],[.02,-3.40],[.16,-3.78],[-.05,-3.83],[.43,-3.90],[.74,-3.82],[.21,-4.13],[1.57,-4.11],[1.05,-4.36],[.33,-4.46],[1.20,-4.57],[.67,-4.65],[1.65,-4.81],[.41,-5.17],[-.05,-5.13]];

const background=[...upperLeft,...upperRight,...midLeftSparse,...coreDense,...coreInner,...midRightSparse,...lowerLeft,...lowerRight];
const outliers=outlierDates.map((d,i)=>({date:d,x:outlierPC3[i],y:outlierPC4[i],lx:labelPC3[i],ly:labelPC4[i]}));
const minus=d=>String(d).replace("-","\u2212");

const chart=Plot.plot({
  width:1800,height:1800,marginLeft:262,marginRight:98,marginTop:181,marginBottom:180,
  x:{domain:[-6.402,11.16]},y:{domain:[-8.497,7.893]},
  style:{fontFamily:"'DejaVu Sans'",background:"#fff"},
  marks:[
    Plot.ruleX(xTicks,{stroke:"#dedede",strokeWidth:1.8}),
    Plot.ruleY(yTicks,{stroke:"#dedede",strokeWidth:1.8}),
    Plot.ruleX([0],{stroke:"#666",strokeWidth:1.3}),
    Plot.ruleY([0],{stroke:"#666",strokeWidth:1.3}),
    Plot.dot(background,{x:d=>d[0],y:d=>d[1],r:4.2,fill:"#888a7e",stroke:"#555652",strokeWidth:2.2}),
    Plot.dot(outliers,{x:"x",y:"y",r:6.8,fill:"#ff4500",stroke:"#555",strokeWidth:2.4}),
    Plot.text(outliers,{x:"lx",y:"ly",text:"date",textAnchor:"start",lineAnchor:"middle",fontSize:20.45,fill:"#484848"}),
    Plot.frame({stroke:"#262626",strokeWidth:4.8}),
    Plot.axisX(xTicks,{anchor:"bottom",label:null,tickSize:12,tickPadding:10,fontSize:30,color:"#222",strokeWidth:2.5,tickFormat:minus}),
    Plot.axisY(yTicks,{anchor:"left",label:null,tickSize:12,tickPadding:10,fontSize:30,color:"#222",strokeWidth:2.5,tickFormat:minus}),
    Plot.text(["PC3 Score"],{frameAnchor:"bottom",dx:-1,dy:86,fontSize:37.8,fill:"#111",lineAnchor:"middle"}),
    Plot.text(["PC4 Score"],{frameAnchor:"left",dx:-107,rotate:-90,textAnchor:"middle",fontSize:37.8,fill:"#111",lineAnchor:"middle"}),
    Plot.text(["Daily Outliers: PC3 vs PC4"],{frameAnchor:"top",dx:-1,dy:-65,fontSize:49.1,fontWeight:700,fill:"#000",lineAnchor:"middle"})
  ]
});
document.getElementById("chart").append(chart);
</script></body></html>
